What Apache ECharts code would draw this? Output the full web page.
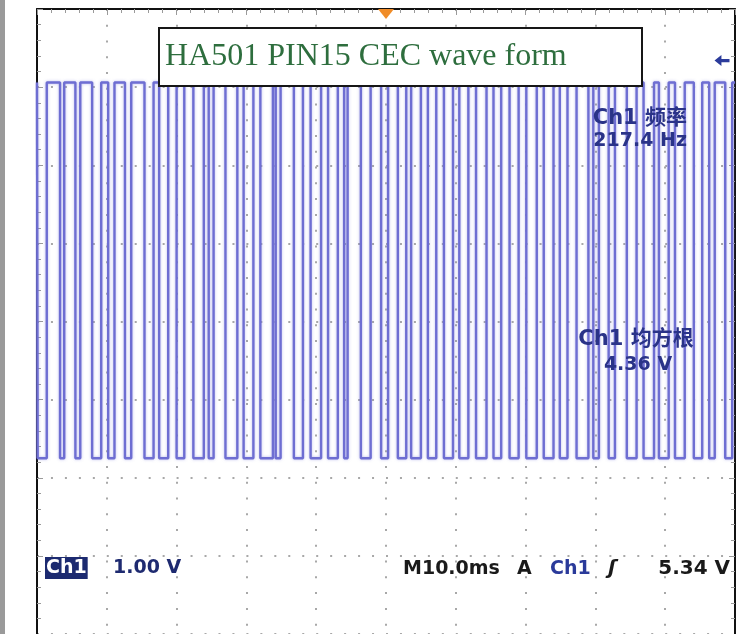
<!DOCTYPE html>
<html>
<head>
<meta charset="utf-8">
<title>HA501 PIN15 CEC wave form</title>
<script src="https://cdn.jsdelivr.net/npm/echarts/dist/echarts.min.js"></script>
<style>
  html, body { margin: 0; padding: 0; background: #ffffff; }
  #chart { width: 748px; height: 634px; }
</style>
</head>
<body>
<div id="chart"></div>
<script>
// Scope settings
const TIME_PER_DIV_MS = 10.0;
const H_DIVS = 10;
const V_DIVS = 8;
const VOLTS_PER_DIV = 1.00;
const GROUND_DIV = -2;          // Ch1 ground reference, in divisions from centre
const TRIGGER_POS_MS = 50;
const TRIGGER_LEVEL_V = 5.34;

// Measurements shown on screen
const FREQ_HZ = 217.4;
const RMS_V = 4.36;

// CEC line levels (V)
const HIGH_V = 5.06;
const LOW_V = 0.25;

// Bus pulled low between these times (ms from left edge of screen)
const lowStart = [0.1, 3.3, 5.5, 7.9, 10.2, 12.6, 15.4, 17.5, 20.0, 22.4, 24.6,
                  27.0, 29.6, 32.0, 34.2, 36.8, 39.2, 41.7, 44.0, 46.4, 49.3,
                  51.7, 53.6, 56.0, 58.3, 60.5, 62.9, 65.4, 67.7, 70.1, 72.6,
                  74.9, 77.3, 79.7, 81.9, 84.5, 86.9, 89.1, 91.4, 94.1, 96.3, 98.6];
const lowEnd   = [1.4, 3.9, 6.2, 9.2, 11.1, 13.5, 16.7, 18.8, 21.1, 23.9, 25.3,
                  28.7, 31.0, 33.8, 34.9, 38.1, 40.7, 43.1, 44.5, 47.8, 50.3,
                  52.9, 55.0, 57.2, 59.6, 61.8, 64.4, 66.5, 69.0, 71.6, 74.0,
                  76.0, 79.0, 80.5, 82.8, 85.9, 88.4, 90.5, 92.8, 95.3, 97.1, 99.6];

const X_MAX = H_DIVS * TIME_PER_DIV_MS;
const toDiv = v => v / VOLTS_PER_DIV + GROUND_DIV;

// Build the square-wave trace from the edge times
const trace = [[0, toDiv(HIGH_V)]];
for (let i = 0; i < lowStart.length; i++) {
  trace.push([lowStart[i], toDiv(HIGH_V)]);
  trace.push([lowStart[i], toDiv(LOW_V)]);
  trace.push([lowEnd[i], toDiv(LOW_V)]);
  trace.push([lowEnd[i], toDiv(HIGH_V)]);
}
trace.push([X_MAX, toDiv(HIGH_V)]);

const GRID = { left: 37, top: 9, width: 698, height: 630.4 };
const divW = GRID.width / H_DIVS;
const divH = GRID.height / V_DIVS;

const SANS = "'DejaVu Sans', 'Noto Sans CJK SC', sans-serif";
const CJK = "'DejaVu Sans', 'Noto Sans CJK SC', sans-serif";

const borderAxisX = (pos, show) => ({
  type: 'value', position: pos, min: 0, max: X_MAX, interval: TIME_PER_DIV_MS,
  axisLine: { show: show, onZero: false, lineStyle: { color: '#111', width: 2 } },
  axisTick: { show: show, inside: true, length: 6, lineStyle: { color: '#9a9a9a' } },
  minorTick: { show: show, splitNumber: 5, length: 4, lineStyle: { color: '#9a9a9a' } },
  axisLabel: { show: false },
  splitLine: { show: pos === 'top', lineStyle: { color: '#a8a8a8', width: 2, type: [2, divH / 5 - 2] } }
});
const borderAxisY = (pos) => ({
  type: 'value', position: pos, min: -V_DIVS / 2, max: V_DIVS / 2, interval: 1,
  axisLine: { show: true, onZero: false, lineStyle: { color: '#111', width: 2 } },
  axisTick: { show: true, inside: true, length: 6, lineStyle: { color: '#9a9a9a' } },
  minorTick: { show: true, splitNumber: 5, length: 4, lineStyle: { color: '#9a9a9a' } },
  axisLabel: { show: false },
  splitLine: { show: pos === 'left', lineStyle: { color: '#a8a8a8', width: 2, type: [2, divW / 5 - 2] } }
});

const chart = echarts.init(document.getElementById('chart'), null, { renderer: 'canvas' });
chart.setOption({
  backgroundColor: '#ffffff',
  animation: false,
  grid: GRID,
  xAxis: [borderAxisX('top', true), borderAxisX('bottom', false)],
  yAxis: [borderAxisY('left'), borderAxisY('right')],
  series: [{
    type: 'line',
    xAxisIndex: 0,
    yAxisIndex: 0,
    data: trace,
    showSymbol: false,
    z: 3,
    lineStyle: { color: '#6e6ed2', width: 2.4, shadowColor: 'rgba(120,120,220,0.5)', shadowBlur: 3 },
    markPoint: {
      silent: true,
      label: { show: false },
      data: [
        { coord: [TRIGGER_POS_MS, V_DIVS / 2], symbol: 'triangle', symbolRotate: 180,
          symbolSize: [16, 10], symbolOffset: [0, 5], itemStyle: { color: '#f08c28' } },
        { coord: [X_MAX, toDiv(TRIGGER_LEVEL_V)],
          symbol: 'path://M0,5 L6,0 L6,3.5 L13,3.5 L13,6.5 L6,6.5 L6,10 Z',
          symbolSize: [15, 11], symbolOffset: [-13, 0], itemStyle: { color: '#2b3b9b' } }
      ]
    }
  }],
  graphic: [
    { type: 'rect', left: 0, top: 0, shape: { x: 0, y: 0, width: 5, height: 634 },
      style: { fill: '#9a9a9a' }, z: 50 },
    { type: 'rect', shape: { x: 159, y: 28, width: 483, height: 58 },
      style: { fill: '#ffffff', stroke: '#161616', lineWidth: 2 }, z: 100 },
    { type: 'text', x: 165, y: 57, z: 101,
      style: { text: 'HA501 PIN15 CEC wave form', fill: '#2e6e3e', font: "32px 'Liberation Serif', serif",
               verticalAlign: 'middle', align: 'left' } },
    { type: 'text', x: 687, y: 119, z: 101,
      style: { text: 'Ch1 频率', fill: '#2a3388', font: 'bold 21px ' + CJK, align: 'right', verticalAlign: 'middle' } },
    { type: 'text', x: 687, y: 141, z: 101,
      style: { text: FREQ_HZ.toFixed(1) + ' Hz', fill: '#2a3388', font: 'bold 19px ' + SANS, align: 'right', verticalAlign: 'middle' } },
    { type: 'text', x: 636, y: 340, z: 101,
      style: { text: 'Ch1 均方根', fill: '#2a3388', font: 'bold 21px ' + CJK, align: 'center', verticalAlign: 'middle' } },
    { type: 'text', x: 638, y: 365, z: 101,
      style: { text: RMS_V.toFixed(2) + ' V', fill: '#2a3388', font: 'bold 19px ' + SANS, align: 'center', verticalAlign: 'middle' } },
    { type: 'text', x: 45, y: 568, z: 101,
      style: { text: 'Ch1', fill: '#ffffff', backgroundColor: '#1c2a70', padding: [2, 1, 1, 1],
               font: 'bold 19px ' + SANS, align: 'left', verticalAlign: 'middle' } },
    { type: 'text', x: 113, y: 568, z: 101,
      style: { text: VOLTS_PER_DIV.toFixed(2) + ' V', fill: '#1e2a70', font: 'bold 19px ' + SANS, align: 'left', verticalAlign: 'middle' } },
    { type: 'text', x: 403, y: 569, z: 101,
      style: { text: 'M' + TIME_PER_DIV_MS.toFixed(1) + 'ms', fill: '#1a1a1a', font: 'bold 19px ' + SANS, align: 'left', verticalAlign: 'middle' } },
    { type: 'text', x: 517, y: 569, z: 101,
      style: { text: 'A', fill: '#1a1a1a', font: 'bold 19px ' + SANS, align: 'left', verticalAlign: 'middle' } },
    { type: 'text', x: 550, y: 569, z: 101,
      style: { text: 'Ch1', fill: '#2a3a9a', font: 'bold 19px ' + SANS, align: 'left', verticalAlign: 'middle' } },
    { type: 'text', x: 608, y: 569, z: 101,
      style: { text: 'ʃ', fill: '#1a1a1a', font: 'italic bold 20px ' + SANS, align: 'left', verticalAlign: 'middle' } },
    { type: 'text', x: 730, y: 569, z: 101,
      style: { text: TRIGGER_LEVEL_V.toFixed(2) + ' V', fill: '#1a1a1a', font: 'bold 20px ' + SANS, align: 'right', verticalAlign: 'middle' } }
  ]
});
</script>
</body>
</html>
